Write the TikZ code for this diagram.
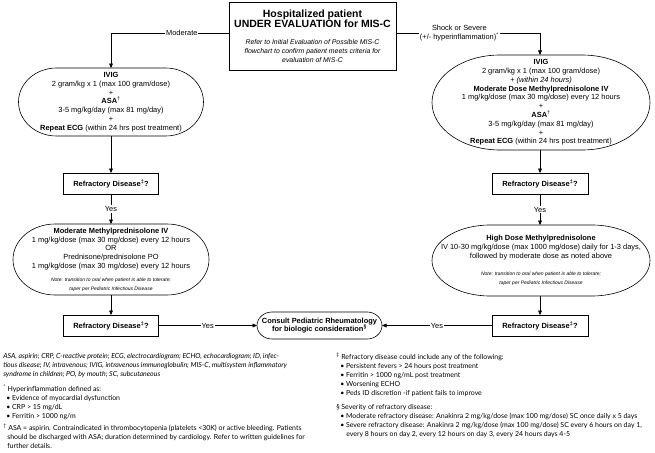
\documentclass[tikz,border=0pt]{standalone}
\usepackage{fontspec}
\setmainfont{Liberation Sans}
\newfontfamily\notefont{Lato}
\usepackage{tikz}
\usetikzlibrary{arrows.meta,calc}
\usepackage{xcolor}

\tikzset{
  box/.style={draw,line width=0.6pt,inner sep=0pt,outer sep=0pt,align=center},
  term/.style={inner sep=0pt,outer sep=0pt,align=center},
  lbl/.style={fill=white,inner sep=1pt,font=\fontsize{7.4}{8.4}\selectfont},
  fnote/.style={anchor=north west,inner sep=0pt,align=left,font=\notefont\fontsize{6.95}{9}\selectfont}
}
% outline of a terminal node: elliptical ends of horizontal radius #2
\newcommand\drawterm[2]{%
  \draw[line width=0.6pt] let \p1=(#1.north east), \p2=(#1.south west), \n1={(\y1-\y2)/2} in
    (\x2+#2,\y1) -- (\x1-#2,\y1) arc[start angle=90,end angle=-90,x radius=#2,y radius=\n1]
    -- (\x2+#2,\y2) arc[start angle=270,end angle=90,x radius=#2,y radius=\n1] -- cycle;}

\begin{document}
\begin{tikzpicture}[x=1pt,y=1pt,>={Triangle[length=4.5pt,width=3.8pt]},line width=0.5pt,
  font=\fontsize{7.45}{8.8}\selectfont]
\useasboundingbox (0,0) rectangle (655,-452);
% top box
\node[box,minimum width=167pt,minimum height=68pt] (eval) at (312.5,-36)
  {\fontsize{10.5}{13.5}\selectfont\bfseries Hospitalized patient\\
   \fontsize{10.5}{13.5}\selectfont\bfseries UNDER EVALUATION for MIS-C\\[8pt]
   \fontsize{6.9}{9}\selectfont\itshape Refer to Initial Evaluation of Possible MIS-C\\
   \fontsize{6.9}{9}\selectfont\itshape flowchart to confirm patient meets criteria for\\
   \fontsize{6.9}{9}\selectfont\itshape evaluation of MIS-C};

% moderate branch
\node[term,minimum width=185pt,minimum height=68pt] (ivigl) at (111,-102)
  {\textbf{IVIG}\\
   2 gram/kg x 1 (max 100 gram/dose)\\
   +\\
   \textbf{ASA}\textsuperscript{†}\\
   3-5 mg/kg/day (max 81 mg/day)\\
   +\\
   \textbf{Repeat ECG} (within 24 hrs post treatment)};
\drawterm{ivigl}{38pt}
\node[box,minimum width=95pt,minimum height=21pt] (refl1) at (111,-183.5)
  {\textbf{Refractory Disease\textsuperscript{‡}?}};
\node[term,minimum width=196pt,minimum height=71pt] (steroidl) at (111,-259.5)
  {\textbf{Moderate Methylprednisolone IV}\\
   1 mg/kg/dose (max 30 mg/dose) every 12 hours\\
   OR\\
   Prednisone/prednisolone PO\\
   1 mg/kg/dose (max 30 mg/dose) every 12 hours\\[4pt]
   \fontsize{5}{7.2}\selectfont\itshape Note: transition to oral when patient is able to tolerate;\\
   \fontsize{5}{7.2}\selectfont\itshape taper per Pediatric Infectious Disease};
\drawterm{steroidl}{42pt}
\node[box,minimum width=95pt,minimum height=21pt] (refl2) at (111,-325.5)
  {\textbf{Refractory Disease\textsuperscript{‡}?}};

% severe branch
\node[term,minimum width=218pt,minimum height=95pt] (ivigr) at (541,-102.5)
  {\textbf{IVIG}\\
   2 gram/kg x 1 (max 100 gram/dose)\\
   + \textit{(within 24 hours)}\\
   \textbf{Moderate Dose Methylprednisolone IV}\\
   1 mg/kg/dose (max 30 mg/dose) every 12 hours\\
   +\\
   \textbf{ASA}\textsuperscript{†}\\
   3-5 mg/kg/day (max 81 mg/day)\\
   +\\
   \textbf{Repeat ECG} (within 24 hrs post treatment)};
\drawterm{ivigr}{68pt}
\node[box,minimum width=96pt,minimum height=21pt] (refr1) at (540,-183.5)
  {\textbf{Refractory Disease\textsuperscript{‡}?}};
\node[term,minimum width=218pt,minimum height=71pt] (steroidr) at (541,-260.5)
  {\textbf{High Dose Methylprednisolone}\\
   IV 10-30 mg/kg/dose (max 1000 mg/dose) daily for 1-3 days,\\
   followed by moderate dose as noted above\\[9pt]
   \fontsize{5}{7.2}\selectfont\itshape Note: transition to oral when patient is able to tolerate;\\
   \fontsize{5}{7.2}\selectfont\itshape taper per Pediatric Infectious Disease};
\drawterm{steroidr}{58pt}
\node[box,minimum width=96pt,minimum height=21pt] (refr2) at (540,-325.5)
  {\textbf{Refractory Disease\textsuperscript{‡}?}};

% consult
\node[term,minimum width=125pt,minimum height=27pt] (rheum) at (319.5,-325.5)
  {\textbf{Consult Pediatric Rheumatology}\\
   \textbf{for biologic consideration\textsuperscript{§}}};
\drawterm{rheum}{15pt}

% connectors
\draw[->] ([yshift=3pt]eval.west) -| node[lbl,pos=0.2]{Moderate} (ivigl.north);
\draw[->] ([yshift=3pt]eval.east) -| node[lbl,pos=0.22,align=center]
  {Shock or Severe\\(+/- hyperinflammation)\textsuperscript{*}} (ivigr.north -| refr1.north);
\draw[->] (ivigl.south) -- (refl1.north);
\draw[->] (refl1) -- node[lbl]{Yes} (steroidl);
\draw[->] (steroidl.south) -- (refl2.north);
\draw[->] (refl2) -- node[lbl]{Yes} (rheum);
\draw[->] (ivigr.south -| refr1.north) -- (refr1.north);
\draw[->] (refr1) -- node[lbl]{Yes} (steroidr.north -| refr1.north);
\draw[->] (steroidr.south -| refr2.north) -- (refr2.north);
\draw[->] (refr2) -- node[lbl]{Yes} (rheum);

% footnotes
\node[fnote] (abbr) at (3,-353)
  {\itshape ASA, aspirin; CRP, C-reactive protein; ECG, electrocardiogram; ECHO, echocardiogram; ID, infec-\\
   \itshape tious disease; IV, intravenous; IVIG, intravenous immunoglobulin; MIS-C, multisystem inflammatory\\
   \itshape syndrome in children; PO, by mouth; SC, subcutaneous};
\node[fnote] (hyper) at (3,-385)
  {\textsuperscript{*} Hyperinflammation defined as:\\
   \hspace*{3pt}\textbullet\ Evidence of myocardial dysfunction\\
   \hspace*{3pt}\textbullet\ CRP > 15 mg/dL\\
   \hspace*{3pt}\textbullet\ Ferritin > 1000 ng/m};
\node[fnote] (asa) at (3,-424)
  {\textsuperscript{†} ASA = aspirin. Contraindicated in thrombocytopenia (platelets <30K) or active bleeding. Patients\\
   \hspace*{4pt}should be discharged with ASA; duration determined by cardiology. Refer to written guidelines for\\
   \hspace*{4pt}further details.};
\node[fnote] (refr) at (336,-353)
  {\textsuperscript{‡} Refractory disease could include any of the following:\\
   \hspace*{4pt}\textbullet\ Persistent fevers > 24 hours post treatment\\
   \hspace*{4pt}\textbullet\ Ferritin > 1000 ng/mL post treatment\\
   \hspace*{4pt}\textbullet\ Worsening ECHO\\
   \hspace*{4pt}\textbullet\ Peds ID discretion -if patient fails to improve};
\node[fnote] (sev) at (336,-404)
  {§ Severity of refractory disease:\\
   \hspace*{4pt}\textbullet\ Moderate refractory disease: Anakinra 2 mg/kg/dose (max 100 mg/dose) SC once daily x 5 days\\
   \hspace*{4pt}\textbullet\ Severe refractory disease: Anakinra 2 mg/kg/dose (max 100 mg/dose) SC every 6 hours on day 1,\\
   \hspace*{10pt}every 8 hours on day 2, every 12 hours on day 3, every 24 hours days 4-5};
\end{tikzpicture}
\end{document}
